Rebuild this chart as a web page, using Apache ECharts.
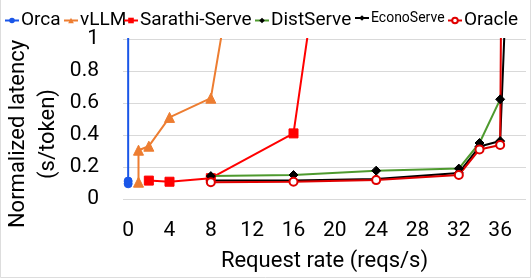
<!DOCTYPE html>
<html><head><meta charset="utf-8">
<script src="https://cdn.jsdelivr.net/npm/echarts@6/dist/echarts.min.js"></script>
<style>html,body{margin:0;padding:0;background:#fff}#c{width:532px;height:279px}</style>
</head><body><div id="c"></div>
<script>
const seriesNames = ['Orca','vLLM','Sarathi-Serve','DistServe','EconoServe','Oracle'];
const orca = [[0,0.095],[0,0.112],[0,10]];
const vllm = [[1,0.105],[1,0.305],[2,0.33],[4,0.51],[8,0.63],[12,2.15]];
const sarathi = [[2,0.115],[4,0.108],[8,0.13],[16,0.41],[20,2.2]];
const distserve = [[8,0.143],[16,0.15],[24,0.177],[32,0.19],[34,0.35],[36,0.623]];
const econoserve = [[8,0.115],[16,0.115],[24,0.125],[32,0.163],[34,0.328],[36,0.362],[37,2.0]];
const oracle = [[8,0.105],[16,0.108],[24,0.118],[32,0.15],[34,0.31],[36,0.338],[37,10]];
const xTicks = [0,4,8,12,16,20,24,28,32,36];
const yTicks = [0,0.2,0.4,0.6,0.8,1];

const FONT = 'Roboto';
const chart = echarts.init(document.getElementById('c'), null, {renderer:'canvas'});
const legendPos = [4, 63, 123, 254, 354, 447];
const legends = seriesNames.map((n,i)=>({
  data:[n], left: legendPos[i], top: 11, itemWidth: 14, itemHeight: 7, itemGap: 0, padding: 0,
  textStyle: n==='EconoServe'
    ? {fontFamily: FONT, fontSize: 14, color:'#000', padding:[0,0,10,-3]}
    : {fontFamily: FONT, fontSize: 19, color:'#000', padding:[0,0,0,-3]}
}));
function mk(name, data, color, symbol, size, symColor, extra){
  return Object.assign({
    name, type:'line', data, color: color,
    symbol, symbolSize: size,
    lineStyle:{color, width:2},
    itemStyle:{color: symColor || color, borderColor: symColor || color},
    animation:false, clip:true, z: 2
  }, extra||{});
}
chart.setOption({
  backgroundColor:'#fff',
  animation:false,
  legend: legends,
  grid:{left:123, right:6, top:39, bottom:80},
  xAxis:{type:'value', min:-0.5, max:38.5,
    axisLine:{show:false}, axisTick:{show:false}, splitLine:{show:false},
    axisLabel:{customValues:xTicks, fontFamily:FONT, fontSize:21, color:'#000', margin:21},
    name:'Request rate (reqs/s)', nameLocation:'middle', nameGap:51,
    nameTextStyle:{fontFamily:FONT, fontSize:22, color:'#000'}
  },
  yAxis:{type:'value', min:0, max:1, interval:0.2,
    axisLine:{show:false}, axisTick:{show:false},
    splitLine:{lineStyle:{color:'#D9D9D9', width:1}},
    axisLabel:{customValues:yTicks, fontFamily:FONT, fontSize:21, color:'#000', margin:24}
  },
  graphic:[
    {type:'text', x:33, y:134, rotation:Math.PI/2,
     style:{text:'Normalized latency\n(s/token)', align:'center', verticalAlign:'middle',
      font:'22px Roboto', fill:'#000', lineHeight:30}},
    {type:'rect', shape:{x:0.5, y:-2, width:530, height:279.5}, silent:true,
     style:{fill:'none', stroke:'#DDDDDD', lineWidth:1}}
  ],
  series:[
    mk('Orca', orca, '#1A56E8', 'circle', 8),
    mk('vLLM', vllm, '#ED7D31', 'triangle', 10),
    mk('Sarathi-Serve', sarathi, '#FF0000', 'rect', 9),
    mk('DistServe', distserve, '#4E9A2E', 'diamond', 9, '#000'),
    mk('EconoServe', econoserve, '#000000', 'diamond', 9, '#000'),
    mk('Oracle', oracle, '#E00000', 'emptyCircle', 8, '#E00000', {itemStyle:{color:'#E00000', borderColor:'#E00000', borderWidth:1.5}})
  ]
});
</script></body></html>
